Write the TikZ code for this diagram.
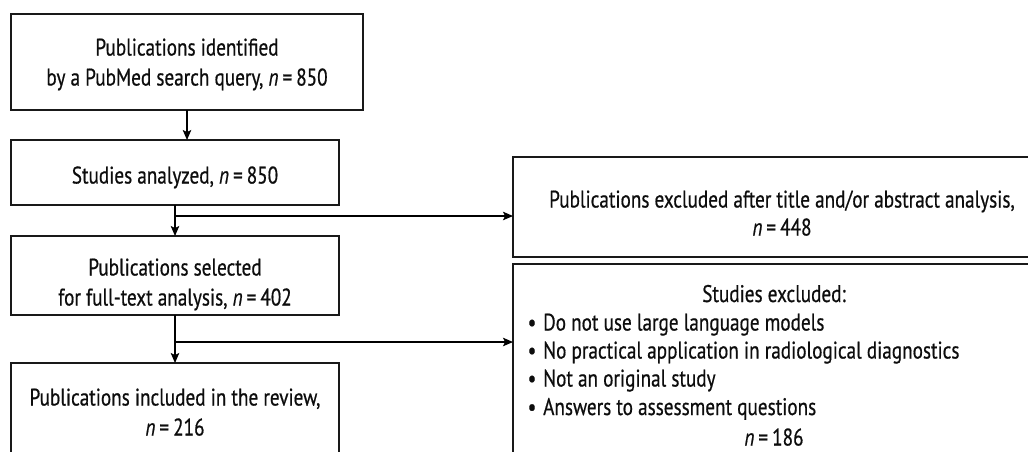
\documentclass[tikz,border=0pt]{standalone}
\usepackage{fontspec}
\setmainfont{PT Sans}[FakeStretch=0.80, FakeBold=0.6]
\usetikzlibrary{arrows.meta}
\begin{document}
\begin{tikzpicture}[x=1pt,y=-1pt,
  box/.style={draw=black!90, line width=1.6pt, inner sep=0pt, outer sep=0pt, anchor=north west},
  lbl/.style={inner sep=0pt, anchor=base, text=black!95, font=\fontsize{24}{29}\selectfont},
  lblw/.style={inner sep=0pt, anchor=base west, text=black!95, font=\fontsize{24}{29}\selectfont},
  arr/.style={line width=1.4pt, -{Stealth[length=10pt,width=8.5pt,inset=2pt]}}
]
\useasboundingbox (0,0) rectangle (1028,451);
\clip (0,0) rectangle (1028,451);
% boxes
\node[box, minimum width=352pt, minimum height=96pt] (b1) at (11,14) {};
\node[box, minimum width=328pt, minimum height=65pt] (b2) at (11,140) {};
\node[box, minimum width=328pt, minimum height=79pt] (b3) at (11,236) {};
\node[box, minimum width=328pt, minimum height=120pt] (b4) at (11,363) {};
\node[box, minimum width=540pt, minimum height=100pt] (b5) at (513,157) {};
\node[box, minimum width=540pt, minimum height=220pt] (b6) at (513,264) {};
% texts
\node[lbl] (t1a) at (187,55.5) {Publications identified};
\node[lbl] (t1b) at (187,85.5) {by a PubMed search query, {\itshape n}\,=\,850};
\node[lbl] (t2) at (175,183.5) {Studies analyzed, {\itshape n}\,=\,850};
\node[lbl] (t3a) at (175,275.5) {Publications selected};
\node[lbl] (t3b) at (175,305.5) {for full-text analysis, {\itshape n}\,=\,402};
\node[lbl] (t4a) at (175,405.5) {Publications included in the review,};
\node[lbl] (t4b) at (175,435.5) {{\itshape n}\,=\,216};
\node[lbl] (t5a) at (782,207.5) {Publications excluded after title and/or abstract analysis,};
\node[lbl] (t5b) at (782,235.5) {{\itshape n}\,=\,448};
\node[lbl] (t6h) at (774,302) {Studies excluded:};
\node[lbl] (u1) at (532,330.5) {•};
\node[lblw] (s1) at (543,330.5) {Do not use large language models};
\node[lbl] (u2) at (532,358.5) {•};
\node[lblw] (s2) at (543,358.5) {No practical application in radiological diagnostics};
\node[lbl] (u3) at (532,386.5) {•};
\node[lblw] (s3) at (543,386.5) {Not an original study};
\node[lbl] (u4) at (532,415) {•};
\node[lblw] (s4) at (543,415) {Answers to assessment questions};
\node[lbl] (t6n) at (774,445.5) {{\itshape n}\,=\,186};
% connectors
\draw[arr] (b1.south) -- (b1.south |- b2.north);
\draw[arr] (b2.south) -- (b3.north);
\coordinate (j1) at (175,216);
\draw[arr] (j1) -- (j1 -| b5.west);
\draw[arr] (b3.south) -- (b4.north);
\coordinate (j2) at (175,342);
\draw[arr] (j2) -- (j2 -| b6.west);
\end{tikzpicture}
\end{document}
